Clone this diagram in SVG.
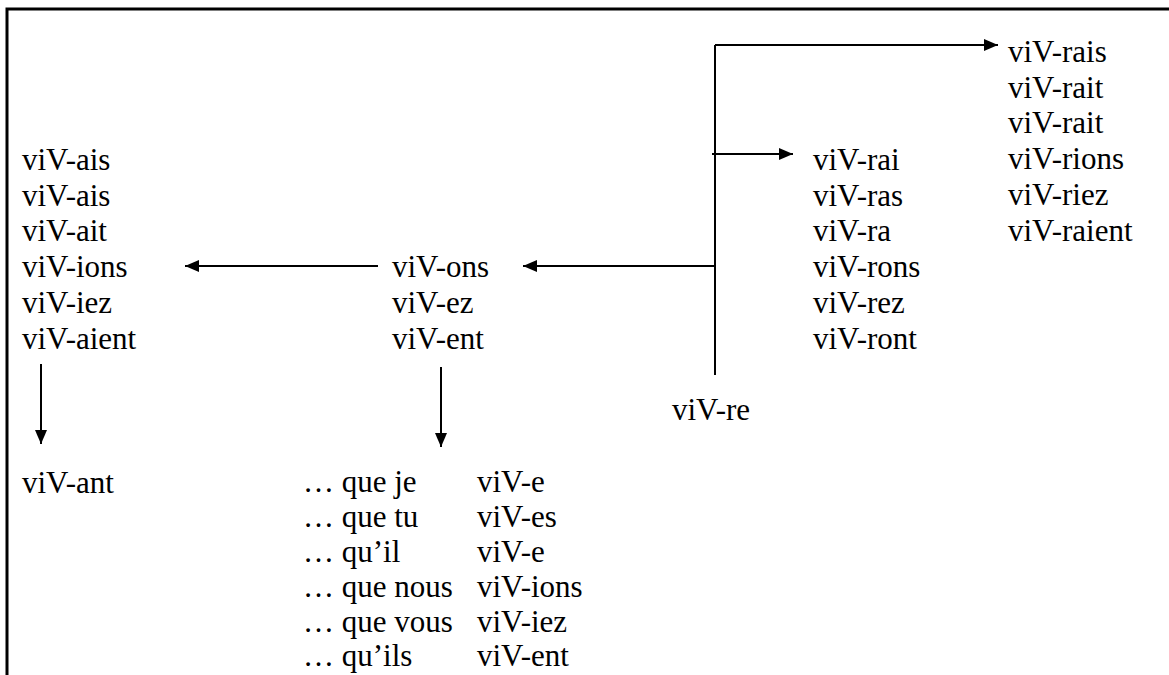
<svg xmlns="http://www.w3.org/2000/svg" width="1169" height="675" viewBox="0 0 1169 675">
<style>
text{font-family:"Liberation Serif","Times New Roman","DejaVu Serif",serif;font-size:31px;fill:#000}
.ln{stroke:#000;stroke-width:2;fill:none}
.ar{stroke:#000;stroke-width:2;fill:none;marker-end:url(#ah)}
</style>
<defs>
<marker id="ah" markerUnits="userSpaceOnUse" markerWidth="14" markerHeight="12" refX="14" refY="6" orient="auto">
<path d="M0,0 L14,6 L0,12 z" fill="#000"/>
</marker>
</defs>
<rect width="1169" height="675" fill="#fff"/>
<path d="M7,675 V9 H1169" stroke="#000" stroke-width="3" fill="none"/>
<g id="connectors">
<path class="ln" d="M715,45 V375"/>
<path class="ar" d="M715,45 H998"/>
<path class="ar" d="M712,154 H793"/>
<path class="ar" d="M715,266 H523"/>
<path class="ar" d="M378,266 H185"/>
<path class="ar" d="M41,364 V444"/>
<path class="ar" d="M441,367 V447"/>
</g>
<g id="conditionnel">
<text x="1008" y="62">viV-rais</text>
<text x="1008" y="97.7">viV-rait</text>
<text x="1008" y="133.4">viV-rait</text>
<text x="1008" y="169.1">viV-rions</text>
<text x="1008" y="204.8">viV-riez</text>
<text x="1008" y="240.5">viV-raient</text>
</g>
<g id="futur">
<text x="813" y="170">viV-rai</text>
<text x="813" y="205.7">viV-ras</text>
<text x="813" y="241.4">viV-ra</text>
<text x="813" y="277.1">viV-rons</text>
<text x="813" y="312.8">viV-rez</text>
<text x="813" y="348.5">viV-ront</text>
</g>
<g id="imparfait">
<text x="22" y="170">viV-ais</text>
<text x="22" y="205.7">viV-ais</text>
<text x="22" y="241.4">viV-ait</text>
<text x="22" y="277.1">viV-ions</text>
<text x="22" y="312.8">viV-iez</text>
<text x="22" y="348.5">viV-aient</text>
</g>
<g id="present">
<text x="392" y="277.1">viV-ons</text>
<text x="392" y="312.8">viV-ez</text>
<text x="392" y="348.5">viV-ent</text>
</g>
<g id="infinitif">
<text x="672" y="420">viV-re</text>
</g>
<g id="participe">
<text x="22" y="493">viV-ant</text>
</g>
<g id="subjonctif">
<text x="303" y="492">… que je</text>
<text x="303" y="527">… que tu</text>
<text x="303" y="562">… qu’il</text>
<text x="303" y="597">… que nous</text>
<text x="303" y="632">… que vous</text>
<text x="303" y="666">… qu’ils</text>
<text x="477" y="492">viV-e</text>
<text x="477" y="527">viV-es</text>
<text x="477" y="562">viV-e</text>
<text x="477" y="597">viV-ions</text>
<text x="477" y="632">viV-iez</text>
<text x="477" y="666">viV-ent</text>
</g>
</svg>
